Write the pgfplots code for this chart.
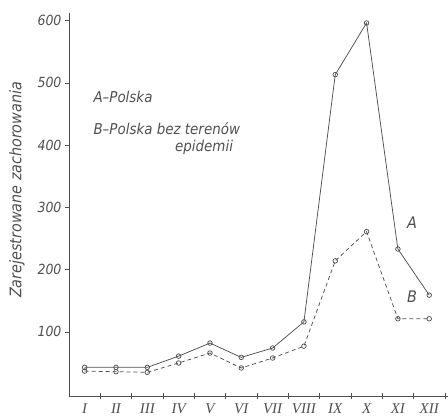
\documentclass[border=0pt]{standalone}
\usepackage{fontspec}
\setmainfont{DejaVu Sans Condensed}[ItalicFont={DejaVu Sans Condensed Oblique}]
\newfontfamily\romfont{Liberation Serif}
\usepackage{pgfplots}
\pgfplotsset{compat=1.18}
\definecolor{ink}{HTML}{505050}
\begin{document}
\begin{tikzpicture}
\useasboundingbox (-69bp,-21bp) rectangle (379bp,396bp);
\begin{axis}[
  at={(0,0)}, anchor=south west,
  scale only axis, width=379bp, height=383bp,
  xmin=0.5, xmax=12.6, ymin=-3, ymax=612,
  axis x line=bottom, axis y line=left,
  axis line style={-, draw=ink, line width=0.8pt},
  clip=false,
  ytick={100,200,300,400,500,600},
  tick align=outside, major tick length=4bp,
  ytick style={draw=ink},
  yticklabel style={font=\itshape\fontsize{14}{14}\selectfont, text=ink},
  /pgf/number format/assume math mode=true,
  xtick={1,...,12},
  xticklabels={I,II,III,IV,V,VI,VII,VIII,IX,X,XI,XII},
  xtick style={draw=none},
  xticklabel style={font=\romfont\itshape\fontsize{15}{15}\selectfont, text=ink},
  extra x ticks={1.5,2.5,3.5,4.5,5.5,6.5,7.5,8.5,9.5,10.5,11.5,12.5},
  extra x tick labels={},
  extra x tick style={xtick style={draw=ink, thin}, tick align=center, major tick length=6bp},
]
\addplot[ink, line width=0.75pt, mark=o, mark size=2.3pt, mark options={solid, fill=white}]
  coordinates {(1,43)(2,43)(3,43)(4,61)(5,82)(6,59)(7,74)(8,116)(9,513)(10,596)(11,233)(12,159)};
\addplot[ink, line width=0.75pt, dash pattern=on 4pt off 3pt, mark=o, mark size=2.3pt, mark options={solid, fill=white}]
  coordinates {(1,37)(2,36)(3,35)(4,50)(5,66)(6,42)(7,58)(8,77)(9,214)(10,261)(11,121)(12,121)};
\node[anchor=west, text=ink, font=\itshape\fontsize{15}{15}\selectfont] at (axis cs:1.17,477) {A–Polska};
\node[anchor=west, text=ink, font=\itshape\fontsize{15}{15}\selectfont] at (axis cs:1.17,426) {B–Polska bez terenów};
\node[anchor=east, text=ink, font=\itshape\fontsize{15}{15}\selectfont] at (axis cs:5.85,397) {epidemii};
\node[text=ink, font=\itshape\fontsize{16}{16}\selectfont] at (axis cs:11.45,275) {A};
\node[text=ink, font=\itshape\fontsize{16}{16}\selectfont] at (axis cs:11.45,156) {B};
\node[rotate=90, text=ink, font=\itshape\fontsize{16}{16}\selectfont] at (axis cs:-1.16,328) {Zarejestrowane zachorowania};
\end{axis}
\end{tikzpicture}
\end{document}
